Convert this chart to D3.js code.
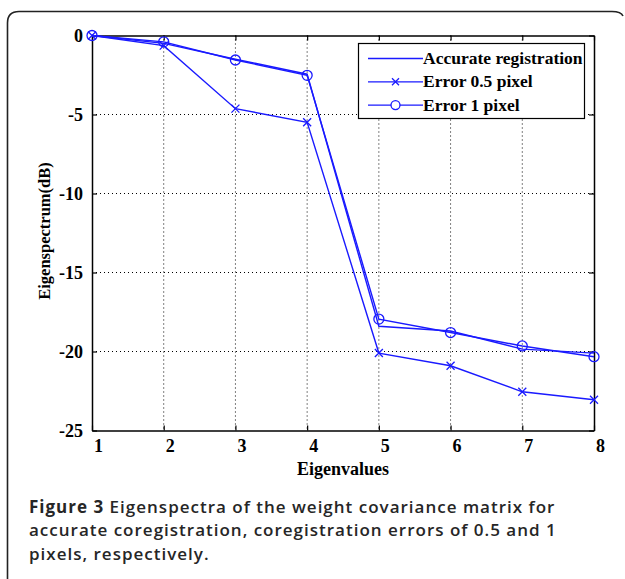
<!DOCTYPE html>
<html>
<head>
<meta charset="utf-8">
<script src="https://cdn.jsdelivr.net/npm/d3@7"></script>
<style>
  html, body { margin: 0; padding: 0; background: #fff; }
  svg { display: block; }
</style>
</head>
<body>
<svg id="chart" width="625" height="579"></svg>
<script>
// Eigenvalue index and eigenspectra (dB) for three coregistration cases
const eigenIndex = [1, 2, 3, 4, 5, 6, 7, 8];
const accurate   = [0, -0.5, -1.5, -2.45, -18.4, -18.7, -19.85, -20.1];
const error05    = [0, -0.64, -4.63, -5.49, -20.1, -20.9, -22.55, -23.05];
const error1     = [0, -0.4, -1.55, -2.52, -17.95, -18.8, -19.65, -20.33];
const xTicks = [1, 2, 3, 4, 5, 6, 7, 8];
const yTicks = [0, -5, -10, -15, -20, -25];
const seriesNames = ["Accurate registration", "Error 0.5 pixel", "Error 1 pixel"];

const svg = d3.select("#chart");
const blue = "#1a1aff";
const serif = "'Liberation Serif', 'Times New Roman', serif";

// figure frame
svg.append("path")
  .attr("d", "M7.5,579 L7.5,23 Q7.5,11.5 19,11.5 L612,11.5 Q621,11.5 623,16")
  .attr("fill", "none").attr("stroke", "#222").attr("stroke-width", 1.6);

const m = { left: 92, right: 594, top: 35.5, bottom: 430.5 };
const x = d3.scaleLinear().domain([1, 8]).range([m.left, m.right]);
const y = d3.scaleLinear().domain([-25, 0]).range([m.bottom, m.top]);

// dotted grid
const grid = svg.append("g");
grid.selectAll("line.gx").data(xTicks.slice(1, -1)).join("line")
  .attr("x1", d => x(d)).attr("x2", d => x(d))
  .attr("y1", m.top).attr("y2", m.bottom)
  .attr("stroke", "#000").attr("stroke-width", 1).attr("stroke-dasharray", "1,3");
grid.selectAll("line.gy").data(yTicks.slice(1, -1)).join("line")
  .attr("x1", m.left).attr("x2", m.right)
  .attr("y1", d => y(d)).attr("y2", d => y(d))
  .attr("stroke", "#000").attr("stroke-width", 1).attr("stroke-dasharray", "1,3");

// axes box with inward ticks
const axisStyle = g => {
  g.select(".domain").attr("stroke", "#000").attr("stroke-width", 1.5);
  g.selectAll(".tick line").attr("stroke", "#000").attr("stroke-width", 1.2);
};
const plain = d => String(d);
svg.append("g").attr("transform", `translate(0,${m.bottom})`)
  .call(d3.axisBottom(x).tickValues(xTicks).tickSize(-5).tickSizeOuter(0).tickPadding(9).tickFormat(plain))
  .call(axisStyle)
  .call(g => g.selectAll("text").attr("font-family", serif).attr("font-weight", "bold")
    .attr("font-size", 18).attr("fill", "#000").attr("dx", 6));
svg.append("g").attr("transform", `translate(0,${m.top})`)
  .call(d3.axisTop(x).tickValues(xTicks).tickSize(-5).tickSizeOuter(0).tickFormat(""))
  .call(axisStyle);
svg.append("g").attr("transform", `translate(${m.left},0)`)
  .call(d3.axisLeft(y).tickValues(yTicks).tickSize(-5).tickSizeOuter(0).tickPadding(9).tickFormat(plain))
  .call(axisStyle)
  .call(g => g.selectAll("text").attr("font-family", serif).attr("font-weight", "bold")
    .attr("font-size", 18).attr("fill", "#000"));
svg.append("g").attr("transform", `translate(${m.right},0)`)
  .call(d3.axisRight(y).tickValues(yTicks).tickSize(-5).tickSizeOuter(0).tickFormat(""))
  .call(axisStyle);

// axis titles
svg.append("text").attr("x", (m.left + m.right) / 2).attr("y", 475)
  .attr("text-anchor", "middle").attr("font-family", serif).attr("font-weight", "bold")
  .attr("font-size", 18).text("Eigenvalues");
svg.append("text").attr("transform", `translate(50,${(m.top + m.bottom) / 2 - 2}) rotate(-90)`)
  .attr("text-anchor", "middle").attr("font-family", serif).attr("font-weight", "bold")
  .attr("font-size", 16.5).text("Eigenspectrum(dB)");

// series lines
const line = d3.line().x((d, i) => x(eigenIndex[i])).y(d => y(d));
const plot = svg.append("g");
[accurate, error05, error1].forEach(vals => {
  plot.append("path").datum(vals).attr("d", line)
    .attr("fill", "none").attr("stroke", blue).attr("stroke-width", 1.4);
});

// markers
const crossPath = (cx, cy, r) => `M${cx - r},${cy - r}L${cx + r},${cy + r}M${cx - r},${cy + r}L${cx + r},${cy - r}`;
plot.selectAll("path.cross").data(error05).join("path")
  .attr("d", (d, i) => crossPath(x(eigenIndex[i]), y(d), 4))
  .attr("stroke", blue).attr("stroke-width", 1.3).attr("fill", "none");
plot.selectAll("circle.mk").data(error1).join("circle")
  .attr("cx", (d, i) => x(eigenIndex[i])).attr("cy", d => y(d)).attr("r", 5)
  .attr("stroke", blue).attr("stroke-width", 1.3).attr("fill", "none");

// legend
const lg = svg.append("g");
lg.append("rect").attr("x", 358.5).attr("y", 43.5).attr("width", 226).attr("height", 75)
  .attr("fill", "#fff").attr("stroke", "#000").attr("stroke-width", 1.2);
seriesNames.forEach((name, i) => {
  const ly = 58.5 + i * 23.3;
  lg.append("line").attr("x1", 368).attr("x2", 423).attr("y1", ly).attr("y2", ly)
    .attr("stroke", blue).attr("stroke-width", 1.3);
  if (i === 1) lg.append("path").attr("d", crossPath(395.5, ly, 3.5)).attr("stroke", blue).attr("stroke-width", 1.3);
  if (i === 2) lg.append("circle").attr("cx", 395.5).attr("cy", ly).attr("r", 4.5)
    .attr("fill", "#fff").attr("stroke", blue).attr("stroke-width", 1.3);
  lg.append("text").attr("x", 423).attr("y", ly + 5.5).attr("font-family", serif)
    .attr("font-weight", "bold").attr("font-size", 17.5).text(name);
});

// caption
const cap = svg.append("g").attr("font-family", "'Open Sans', sans-serif")
  .attr("font-size", 17).attr("letter-spacing", 1).attr("fill", "#262626");
const capLines = [
  ["Figure 3", " Eigenspectra of the weight covariance matrix for"],
  ["", "accurate coregistration, coregistration errors of 0.5 and 1"],
  ["", "pixels, respectively."]
];
capLines.forEach((parts, i) => {
  const t = cap.append("text").attr("x", 29).attr("y", 513 + i * 23.3);
  if (parts[0]) t.append("tspan").attr("font-weight", 700).text(parts[0]);
  t.append("tspan").attr("font-weight", 600).text(parts[1]);
});
</script>
</body>
</html>
